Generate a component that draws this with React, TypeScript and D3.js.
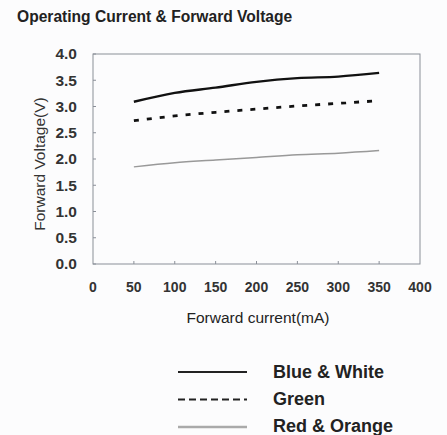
import React from 'react';
import * as d3 from 'd3';

const currents = [50, 100, 150, 200, 250, 300, 350];
const blueWhite = [3.09, 3.26, 3.36, 3.47, 3.54, 3.57, 3.64];
const green = [2.73, 2.82, 2.89, 2.95, 3.01, 3.06, 3.11];
const redOrange = [1.85, 1.93, 1.98, 2.03, 2.08, 2.11, 2.16];
const xTicks = [0, 50, 100, 150, 200, 250, 300, 350, 400];
const yTicks = [0, 0.5, 1, 1.5, 2, 2.5, 3, 3.5, 4];

const series = [
  { name: 'Blue & White', values: blueWhite, color: '#111', width: 2.4, dash: 'none', legendDash: 'none' },
  { name: 'Green', values: green, color: '#111', width: 2.8, dash: '5 8', legendDash: '7 4' },
  { name: 'Red & Orange', values: redOrange, color: '#999', width: 1.5, dash: 'none', legendDash: 'none' },
];

const W = 447;
const H = 435;
const margin = { top: 54, right: 27, bottom: 171, left: 93 };
const font = 'Liberation Sans, Arial, sans-serif';

const App: React.FC = () => {
  const x = d3.scaleLinear().domain([0, 400]).range([margin.left, W - margin.right]);
  const y = d3.scaleLinear().domain([0, 4]).range([H - margin.bottom, margin.top]);
  const line = d3
    .line<number>()
    .x((_, i) => x(currents[i]))
    .y((d) => y(d))
    .curve(d3.curveMonotoneX);

  const x0 = x(0);
  const x1 = x(400);
  const y0 = y(0);
  const y1 = y(4);

  return (
    <svg width={W} height={H} style={{ position: 'absolute', left: 0, top: 0, background: '#fcfcfd' }}>
      <text x={17} y={22} fontFamily={font} fontSize={15.6} fontWeight="bold" fill="#222">
        Operating Current &amp; Forward Voltage
      </text>

      {/* frame */}
      <rect x={x0} y={y1} width={x1 - x0} height={y0 - y1} fill="none" stroke="#8a8f98" strokeWidth={1} />

      {/* y ticks */}
      {yTicks.map((t) => (
        <g key={'y' + t}>
          <line x1={x0} x2={x0 + 3} y1={y(t)} y2={y(t)} stroke="#8a8f98" />
          <text x={77} y={y(t) + 5.3} textAnchor="end" fontFamily={font} fontSize={15.5} fontWeight="bold" fill="#333">
            {t.toFixed(1)}
          </text>
        </g>
      ))}

      {/* x ticks */}
      {xTicks.map((t) => (
        <g key={'x' + t}>
          {t > 0 && t < 400 && <line x1={x(t)} x2={x(t)} y1={y0} y2={y0 - 3} stroke="#8a8f98" />}
          <text x={x(t)} y={292} textAnchor="middle" fontFamily={font} fontSize={14} fontWeight="bold" fill="#333">
            {t}
          </text>
        </g>
      ))}

      <text
        transform={`translate(45, ${(y0 + y1) / 2 + 5}) rotate(-90)`}
        textAnchor="middle"
        fontFamily={font}
        fontSize={15.5}
        fill="#333"
      >
        Forward Voltage(V)
      </text>
      <text x={258} y={323} textAnchor="middle" fontFamily={font} fontSize={15.5} fill="#222">
        Forward current(mA)
      </text>

      {series.map((s) => (
        <path
          key={s.name}
          d={line(s.values) || ''}
          fill="none"
          stroke={s.color}
          strokeWidth={s.width}
          strokeDasharray={s.dash}
        />
      ))}

      {/* legend */}
      {series.map((s, i) => {
        const ly = 372 + i * 27.5;
        return (
          <g key={'lg' + s.name}>
            <line
              x1={178}
              x2={247}
              y1={ly}
              y2={ly}
              stroke={s.color === '#999' ? '#aaa' : '#222'}
              strokeWidth={s.width === 1.5 ? 2.4 : 2.2}
              strokeDasharray={s.legendDash}
            />
            <text x={273} y={378.3 + i * 26.7} fontFamily={font} fontSize={18} fontWeight="bold" fill="#222">
              {s.name}
            </text>
          </g>
        );
      })}
    </svg>
  );
};

export default App;
